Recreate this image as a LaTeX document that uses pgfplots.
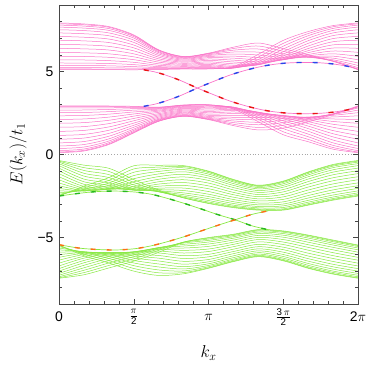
\documentclass[border=0pt]{standalone}
\usepackage{fontspec}
\setmainfont{Liberation Sans}
\usepackage{amsmath}
\usepackage{pgfplots}
\usepackage{pgfplotstable}
\pgfplotsset{compat=1.18}
\usetikzlibrary{calc}
\definecolor{bandP}{RGB}{250,115,200}
\definecolor{bandG}{RGB}{135,232,65}
\definecolor{edgeR}{RGB}{235,20,20}
\definecolor{edgeB}{RGB}{40,70,235}
\definecolor{edgeG}{RGB}{40,185,30}
\definecolor{edgeO}{RGB}{255,110,20}
\definecolor{frameC}{RGB}{70,70,70}

% upper pink band
\pgfplotstableread{
k a1 a2 a3 a4 a5 a6 a7 a8 a9 b1 b2 b3 b4 b5 b6 b7 b8 b9
0      7.92 7.87 7.79 7.67 7.51 7.32 7.11 6.88 6.63 5.11 5.15 5.23 5.36 5.51 5.70 5.91 6.15 6.39
0.5236 7.86 7.81 7.73 7.61 7.46 7.27 7.06 6.84 6.60 5.11 5.15 5.23 5.35 5.50 5.69 5.90 6.12 6.36
1.0472 7.70 7.66 7.58 7.47 7.32 7.15 6.95 6.74 6.51 5.11 5.14 5.22 5.34 5.48 5.65 5.85 6.06 6.29
1.5708 7.20 7.16 7.10 7.01 6.89 6.75 6.59 6.42 6.24 5.10 5.14 5.20 5.29 5.41 5.55 5.71 5.88 6.06
2.0944 6.30 6.28 6.25 6.19 6.13 6.05 5.96 5.86 5.76 5.12 5.14 5.18 5.23 5.29 5.37 5.46 5.56 5.66
2.6180 5.90 5.89 5.87 5.83 5.79 5.74 5.68 5.62 5.56 5.15 5.16 5.19 5.22 5.26 5.31 5.37 5.43 5.49
3.1416 6.10 6.08 6.06 6.01 5.96 5.90 5.83 5.75 5.67 5.15 5.17 5.20 5.24 5.29 5.35 5.42 5.50 5.58
3.6652 6.46 6.38 6.28 6.17 6.05 5.92 5.80 5.68 5.57 5.29 5.24 5.21 5.20 5.21 5.25 5.30 5.37 5.46
4.1888 6.71 6.53 6.35 6.16 5.99 5.84 5.70 5.58 5.49 6.03 5.87 5.72 5.60 5.51 5.44 5.41 5.40 5.43
4.7124 6.37 6.21 6.06 5.94 5.84 5.76 5.72 5.70 5.71 6.87 6.69 6.52 6.35 6.19 6.05 5.93 5.83 5.76
5.2360 6.00 5.93 5.88 5.85 5.86 5.88 5.94 6.02 6.13 7.40 7.28 7.15 7.00 6.85 6.69 6.53 6.38 6.25
5.7596 5.61 5.61 5.64 5.70 5.80 5.92 6.06 6.23 6.41 7.76 7.69 7.59 7.47 7.32 7.16 6.98 6.79 6.60
6.2832 5.11 5.15 5.23 5.36 5.51 5.70 5.91 6.15 6.39 7.92 7.87 7.79 7.67 7.51 7.32 7.11 6.88 6.63
}\bandA

% lower pink band
\pgfplotstableread{
k a1 a2 a3 a4 a5 a6 a7 a8 a9 b1 b2 b3 b4 b5 b6 b7 b8 b9
0      2.93 2.88 2.80 2.67 2.52 2.33 2.11 1.88 1.64 0.11 0.15 0.23 0.36 0.51 0.70 0.92 1.15 1.39
0.5236 2.93 2.88 2.80 2.68 2.53 2.35 2.14 1.92 1.68 0.21 0.25 0.33 0.45 0.60 0.78 0.99 1.21 1.45
1.0472 2.92 2.88 2.81 2.71 2.58 2.43 2.25 2.06 1.86 0.60 0.64 0.71 0.81 0.94 1.10 1.27 1.46 1.66
1.5708 2.90 2.87 2.83 2.76 2.67 2.56 2.44 2.31 2.17 1.30 1.33 1.38 1.45 1.53 1.64 1.76 1.89 2.03
2.0944 2.85 2.84 2.81 2.77 2.73 2.67 2.61 2.54 2.46 2.00 2.01 2.04 2.08 2.12 2.18 2.25 2.32 2.39
2.6180 2.98 2.97 2.95 2.92 2.88 2.84 2.78 2.73 2.67 2.30 2.31 2.33 2.36 2.40 2.45 2.50 2.55 2.61
3.1416 3.00 2.99 2.96 2.92 2.87 2.81 2.74 2.67 2.59 2.10 2.12 2.14 2.18 2.23 2.29 2.36 2.43 2.51
3.6652 2.74 2.80 2.83 2.85 2.85 2.82 2.78 2.72 2.65 1.74 1.82 1.92 2.02 2.13 2.24 2.36 2.46 2.56
4.1888 1.97 2.12 2.24 2.35 2.44 2.50 2.54 2.55 2.53 1.48 1.63 1.79 1.94 2.09 2.22 2.33 2.42 2.49
4.7124 1.19 1.37 1.56 1.73 1.89 2.03 2.15 2.24 2.31 1.59 1.76 1.92 2.06 2.17 2.26 2.32 2.35 2.34
5.2360 0.77 0.91 1.07 1.23 1.40 1.56 1.71 1.86 1.98 1.96 2.07 2.16 2.22 2.25 2.25 2.22 2.17 2.09
5.7596 0.32 0.42 0.55 0.70 0.87 1.06 1.25 1.44 1.64 2.41 2.45 2.45 2.42 2.36 2.26 2.14 1.99 1.82
6.2832 0.11 0.15 0.23 0.36 0.51 0.70 0.92 1.15 1.39 2.93 2.88 2.80 2.67 2.52 2.33 2.11 1.88 1.64
}\bandB

% upper green band
\pgfplotstableread{
k a1 a2 a3 a4 a5 a6 a7 a8 a9 b1 b2 b3 b4 b5 b6 b7 b8 b9
0      -0.36 -0.40 -0.46 -0.55 -0.67 -0.82 -0.98 -1.15 -1.34 -2.50 -2.46 -2.40 -2.31 -2.19 -2.04 -1.88 -1.71 -1.52
0.5236 -0.64 -0.79 -0.96 -1.13 -1.30 -1.48 -1.64 -1.79 -1.92 -1.90 -2.01 -2.10 -2.16 -2.19 -2.20 -2.17 -2.11 -2.03
1.0472 -0.83 -1.02 -1.21 -1.39 -1.56 -1.71 -1.85 -1.96 -2.04 -1.39 -1.56 -1.72 -1.85 -1.96 -2.04 -2.08 -2.10 -2.08
1.5708 -1.51 -1.68 -1.83 -1.96 -2.05 -2.12 -2.15 -2.14 -2.10 -0.68 -0.87 -1.07 -1.27 -1.46 -1.64 -1.79 -1.93 -2.03
2.0944 -2.14 -2.20 -2.24 -2.25 -2.23 -2.19 -2.12 -2.03 -1.91 -0.65 -0.76 -0.88 -1.02 -1.17 -1.33 -1.49 -1.64 -1.78
2.6180 -2.61 -2.61 -2.57 -2.51 -2.42 -2.31 -2.17 -2.02 -1.86 -0.67 -0.72 -0.80 -0.91 -1.04 -1.19 -1.35 -1.52 -1.69
3.1416 -2.95 -2.92 -2.86 -2.77 -2.66 -2.53 -2.39 -2.23 -2.06 -1.00 -1.03 -1.09 -1.18 -1.29 -1.42 -1.56 -1.72 -1.89
3.6652 -3.20 -3.17 -3.12 -3.05 -2.95 -2.84 -2.71 -2.57 -2.42 -1.50 -1.53 -1.58 -1.65 -1.75 -1.86 -1.99 -2.13 -2.28
4.1888 -3.35 -3.32 -3.28 -3.21 -3.13 -3.03 -2.92 -2.79 -2.67 -1.85 -1.88 -1.92 -1.99 -2.07 -2.17 -2.28 -2.41 -2.54
4.7124 -3.35 -3.32 -3.27 -3.19 -3.09 -2.98 -2.85 -2.70 -2.55 -1.60 -1.63 -1.68 -1.76 -1.86 -1.97 -2.11 -2.25 -2.40
5.2360 -3.05 -3.02 -2.96 -2.87 -2.76 -2.62 -2.47 -2.31 -2.14 -1.05 -1.08 -1.14 -1.23 -1.34 -1.48 -1.63 -1.79 -1.96
5.7596 -2.75 -2.71 -2.65 -2.56 -2.44 -2.29 -2.13 -1.95 -1.77 -0.60 -0.64 -0.70 -0.79 -0.92 -1.06 -1.22 -1.40 -1.58
6.2832 -2.50 -2.46 -2.40 -2.31 -2.19 -2.04 -1.88 -1.71 -1.52 -0.36 -0.40 -0.46 -0.55 -0.67 -0.82 -0.98 -1.15 -1.34
}\bandC

% lower green band
\pgfplotstableread{
k a1 a2 a3 a4 a5 a6 a7 a8 a9 b1 b2 b3 b4 b5 b6 b7 b8 b9
0      -5.45 -5.48 -5.54 -5.63 -5.74 -5.88 -6.03 -6.19 -6.36 -7.45 -7.42 -7.36 -7.27 -7.16 -7.02 -6.87 -6.71 -6.54
0.5236 -6.09 -5.99 -5.92 -5.87 -5.85 -5.86 -5.89 -5.94 -6.02 -7.24 -7.11 -6.97 -6.82 -6.67 -6.52 -6.38 -6.24 -6.13
1.0472 -6.53 -6.39 -6.26 -6.15 -6.05 -5.98 -5.93 -5.90 -5.90 -6.83 -6.68 -6.53 -6.39 -6.26 -6.15 -6.05 -5.98 -5.93
1.5708 -7.02 -6.86 -6.69 -6.53 -6.38 -6.23 -6.11 -6.01 -5.93 -6.42 -6.28 -6.15 -6.04 -5.95 -5.89 -5.86 -5.85 -5.88
2.0944 -7.28 -7.12 -6.95 -6.77 -6.59 -6.41 -6.24 -6.08 -5.93 -5.89 -5.77 -5.69 -5.63 -5.60 -5.61 -5.64 -5.71 -5.81
2.6180 -7.18 -7.11 -7.01 -6.89 -6.75 -6.60 -6.43 -6.26 -6.09 -5.28 -5.27 -5.29 -5.33 -5.41 -5.51 -5.63 -5.77 -5.93
3.1416 -6.85 -6.82 -6.76 -6.68 -6.58 -6.46 -6.32 -6.16 -6.01 -5.00 -5.03 -5.09 -5.17 -5.27 -5.39 -5.53 -5.69 -5.84
3.6652 -6.45 -6.42 -6.37 -6.30 -6.21 -6.10 -5.97 -5.84 -5.70 -4.80 -4.83 -4.88 -4.95 -5.04 -5.15 -5.28 -5.41 -5.55
4.1888 -6.15 -6.12 -6.07 -6.00 -5.91 -5.80 -5.68 -5.55 -5.41 -4.52 -4.55 -4.60 -4.67 -4.76 -4.87 -4.99 -5.12 -5.26
4.7124 -6.40 -6.37 -6.32 -6.24 -6.14 -6.02 -5.88 -5.73 -5.58 -4.60 -4.63 -4.68 -4.76 -4.86 -4.98 -5.12 -5.27 -5.42
5.2360 -6.85 -6.82 -6.76 -6.67 -6.56 -6.42 -6.27 -6.11 -5.94 -4.85 -4.88 -4.94 -5.03 -5.14 -5.28 -5.43 -5.59 -5.76
5.7596 -7.20 -7.17 -7.10 -7.02 -6.90 -6.76 -6.61 -6.44 -6.26 -5.15 -5.19 -5.25 -5.34 -5.45 -5.59 -5.74 -5.91 -6.09
6.2832 -7.45 -7.42 -7.36 -7.27 -7.16 -7.02 -6.87 -6.71 -6.54 -5.45 -5.48 -5.54 -5.63 -5.74 -5.88 -6.03 -6.19 -6.36
}\bandD

\newcommand{\drawband}[2]{%
  \pgfplotsinvokeforeach{1,...,9}{
    \addplot[#2, line width=0.5pt, smooth] table[x=k, y=a##1] {#1};
    \addplot[#2, line width=0.5pt, smooth] table[x=k, y=b##1] {#1};
  }}

\newcommand{\redEdge}{(1.78,5.10) (2.0,4.98) (2.2,4.82) (2.54,4.47) (2.90,4.01) (3.24,3.61) (3.60,3.21) (4.0,2.87) (4.36,2.64) (4.71,2.51) (5.06,2.46) (5.42,2.47) (5.76,2.55) (6.1,2.71) (6.2832,2.88)}
\newcommand{\blueEdge}{(1.78,2.90) (2.0,3.02) (2.2,3.18) (2.54,3.53) (2.90,3.99) (3.24,4.39) (3.60,4.79) (4.0,5.13) (4.36,5.36) (4.71,5.49) (5.06,5.54) (5.42,5.53) (5.76,5.45) (6.1,5.29) (6.2832,5.12)}
\newcommand{\greenEdge}{(0,-2.50) (0.41,-2.34) (0.76,-2.24) (1.18,-2.20) (1.60,-2.26) (1.95,-2.40) (2.30,-2.66) (2.65,-2.96) (3.0,-3.29) (3.35,-3.63) (3.70,-3.93) (4.05,-4.29) (4.40,-4.53)}
\newcommand{\orangeEdge}{(0,-5.43) (0.41,-5.63) (0.76,-5.71) (1.18,-5.75) (1.60,-5.67) (1.95,-5.49) (2.30,-5.23) (2.65,-4.93) (3.0,-4.59) (3.35,-4.25) (3.70,-3.93) (4.05,-3.61) (4.40,-3.39)}

\begin{document}
\begin{tikzpicture}
\begin{axis}[scale only axis, width=299bp, height=299bp,
  xmin=0, xmax=6.2832, ymin=-9, ymax=9,
  axis on top,
  axis line style={frameC, line width=0.6pt},
  tick style={frameC, line width=0.5pt},
  tick align=inside, major tick length=5bp, minor tick length=3bp,
  xtick={0,1.5708,3.1416,4.7124,6.2832},
  xticklabels={0, $\frac{\pi}{\text{2}}$, $\pi$, $\frac{\text{3}\,\pi}{\text{2}}$, 2$\pi$},
  minor xtick={0.3142,0.6283,0.9425,1.2566,1.8850,2.1991,2.5133,2.8274,3.4558,3.7699,4.0841,4.3982,5.0265,5.3407,5.6549,5.9690},
  ytick={-5,0,5}, yticklabels={−5,0,5},
  minor ytick={-8,-7,-6,-4,-3,-2,-1,1,2,3,4,6,7,8},
  ticklabel style={font=\fontsize{14}{16}\selectfont},
  xticklabel style={anchor=center, yshift=-13bp},
  yticklabel style={xshift=-2bp},
  xlabel={$k_x$}, ylabel={$E(k_x)/t_1$},
  every axis x label/.style={at={(axis description cs:0.5,-0.164)}, anchor=center, font=\fontsize{17}{20}\selectfont},
  every axis y label/.style={at={(axis description cs:-0.137,0.5)}, rotate=90, anchor=center, font=\fontsize{17}{20}\selectfont},
]
\addplot[gray!70, dotted, line width=0.9pt] coordinates {(0,0) (6.2832,0)};
\drawband{\bandA}{bandP}
\drawband{\bandB}{bandP}
\drawband{\bandC}{bandG}
\drawband{\bandD}{bandG}
\addplot[bandP, line width=0.7pt, smooth] coordinates {\redEdge};
\addplot[bandP, line width=0.7pt, smooth] coordinates {\blueEdge};
\addplot[bandG, line width=0.7pt, smooth] coordinates {\greenEdge};
\addplot[bandG, line width=0.7pt, smooth] coordinates {\orangeEdge};
\addplot[edgeR, line width=1.4pt, smooth, dash pattern=on 5bp off 11bp] coordinates {\redEdge};
\addplot[edgeB, line width=1.4pt, smooth, dash pattern=on 5bp off 11bp] coordinates {\blueEdge};
\addplot[edgeG, line width=1.4pt, smooth, dash pattern=on 5bp off 11bp] coordinates {\greenEdge};
\addplot[edgeO, line width=1.4pt, smooth, dash pattern=on 5bp off 11bp] coordinates {\orangeEdge};
\end{axis}
\pgfresetboundingbox
\path ($(current axis.south west)+(-59bp,-66bp)$) rectangle ($(current axis.south west)+(315bp,304bp)$);
\end{tikzpicture}
\end{document}
